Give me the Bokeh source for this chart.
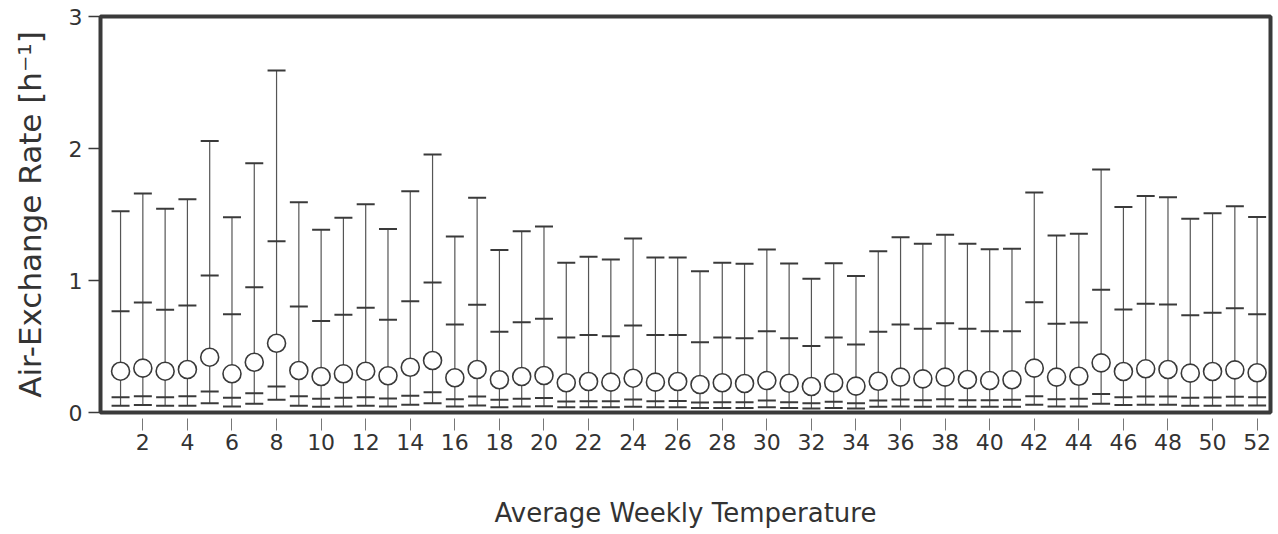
from bokeh.plotting import figure
from bokeh.models import FixedTicker, Range1d, ColumnDataSource
from bokeh.embed import file_html
from bokeh.resources import INLINE

weeks = list(range(1, 53))
p_max = [1.525, 1.66, 1.543, 1.616, 2.056, 1.48, 1.889, 2.59, 1.593, 1.384,
         1.475, 1.578, 1.391, 1.677, 1.955, 1.333, 1.626, 1.232, 1.374, 1.409,
         1.134, 1.179, 1.159, 1.318, 1.174, 1.174, 1.071, 1.134, 1.126, 1.235,
         1.129, 1.013, 1.131, 1.035, 1.222, 1.328, 1.278, 1.346, 1.278, 1.237,
         1.240, 1.667, 1.341, 1.354, 1.841, 1.556, 1.641, 1.631, 1.467, 1.510,
         1.563, 1.482]
p_upper = [0.767, 0.833, 0.778, 0.811, 1.038, 0.745, 0.949, 1.298, 0.803, 0.694,
           0.740, 0.793, 0.702, 0.843, 0.985, 0.667, 0.816, 0.611, 0.684, 0.710,
           0.568, 0.588, 0.578, 0.659, 0.588, 0.588, 0.533, 0.568, 0.563, 0.616,
           0.563, 0.503, 0.568, 0.515, 0.611, 0.667, 0.634, 0.677, 0.634, 0.616,
           0.616, 0.836, 0.672, 0.682, 0.929, 0.780, 0.823, 0.818, 0.737, 0.755,
           0.790, 0.745]
median = [0.313, 0.336, 0.313, 0.326, 0.419, 0.293, 0.381, 0.525, 0.318, 0.273,
          0.293, 0.313, 0.278, 0.343, 0.394, 0.263, 0.326, 0.248, 0.273, 0.280,
          0.225, 0.235, 0.230, 0.260, 0.230, 0.235, 0.212, 0.225, 0.220, 0.242,
          0.222, 0.197, 0.225, 0.200, 0.237, 0.268, 0.255, 0.268, 0.250, 0.242,
          0.248, 0.336, 0.268, 0.275, 0.376, 0.311, 0.331, 0.326, 0.298, 0.311,
          0.323, 0.301]
p_lower = [0.116, 0.124, 0.116, 0.124, 0.159, 0.111, 0.146, 0.197, 0.124, 0.104,
           0.111, 0.116, 0.106, 0.126, 0.154, 0.101, 0.121, 0.096, 0.104, 0.109,
           0.083, 0.086, 0.086, 0.098, 0.086, 0.088, 0.076, 0.078, 0.078, 0.091,
           0.078, 0.071, 0.081, 0.071, 0.091, 0.098, 0.093, 0.101, 0.093, 0.093,
           0.096, 0.124, 0.101, 0.104, 0.141, 0.116, 0.121, 0.121, 0.111, 0.114,
           0.119, 0.116]
p_min = [0.051, 0.056, 0.051, 0.051, 0.071, 0.045, 0.066, 0.096, 0.051, 0.043,
         0.045, 0.051, 0.045, 0.058, 0.071, 0.045, 0.053, 0.040, 0.045, 0.048,
         0.040, 0.040, 0.040, 0.043, 0.040, 0.040, 0.035, 0.035, 0.035, 0.040,
         0.035, 0.030, 0.035, 0.030, 0.043, 0.045, 0.043, 0.045, 0.043, 0.043,
         0.043, 0.058, 0.045, 0.045, 0.066, 0.056, 0.058, 0.058, 0.051, 0.051,
         0.053, 0.053]
x_ticks = list(range(0, 53, 2))
y_ticks = [0, 1, 2, 3]

src = ColumnDataSource(dict(week=weeks, pmax=p_max, pup=p_upper, med=median,
                            plo=p_lower, pmin=p_min))

INK = "#3a3a3a"
FONT = "DejaVu Sans"

p = figure(width=1274, height=530, output_backend="svg", toolbar_location=None,
           x_range=Range1d(0.1, 52.6), y_range=Range1d(0, 3),
           min_border_left=100, min_border_right=4, min_border_top=16,
           min_border_bottom=118)
p.grid.visible = False
p.outline_line_color = INK
p.outline_line_width = 4

p.segment(x0="week", y0="pmin", x1="week", y1="pmax", source=src,
          line_color="#555555", line_width=1.2)
for col in ["pmax", "pup", "plo", "pmin"]:
    p.scatter(x="week", y=col, source=src, marker="dash", size=18,
              line_color=INK, line_width=2)
p.scatter(x="week", y="med", source=src, marker="circle", size=18,
          fill_color="white", line_color=INK, line_width=1.6)

p.xaxis.ticker = FixedTicker(ticks=x_ticks)
p.xaxis.major_label_overrides = {0: ""}
p.yaxis.ticker = FixedTicker(ticks=y_ticks)

for ax in (p.xaxis, p.yaxis):
    ax.axis_line_color = None
    ax.minor_tick_line_color = None
    ax.major_label_text_font = FONT
    ax.major_label_text_font_size = "22px"
    ax.major_label_text_color = "#333333"
    ax.axis_label_text_font = FONT
    ax.axis_label_text_font_style = "normal"
    ax.axis_label_text_color = "#333333"

p.xaxis.major_tick_in = -6
p.xaxis.major_tick_out = 18
p.xaxis.major_tick_line_color = "#777777"
p.xaxis.major_tick_line_width = 1
p.xaxis.major_label_standoff = 3
p.xaxis.axis_label = "Average Weekly Temperature"
p.xaxis.axis_label_text_font_size = "26px"
p.xaxis.axis_label_standoff = 45

p.yaxis.major_tick_in = 0
p.yaxis.major_tick_out = 12
p.yaxis.major_tick_line_color = INK
p.yaxis.major_tick_line_width = 1.5
p.yaxis.major_label_standoff = 6
p.yaxis.axis_label = "Air-Exchange Rate [h\u207b\u00b9]"
p.yaxis.axis_label_text_font_size = "31px"
p.yaxis.axis_label_standoff = 18

open("out.html", "w").write(file_html(p, INLINE))
